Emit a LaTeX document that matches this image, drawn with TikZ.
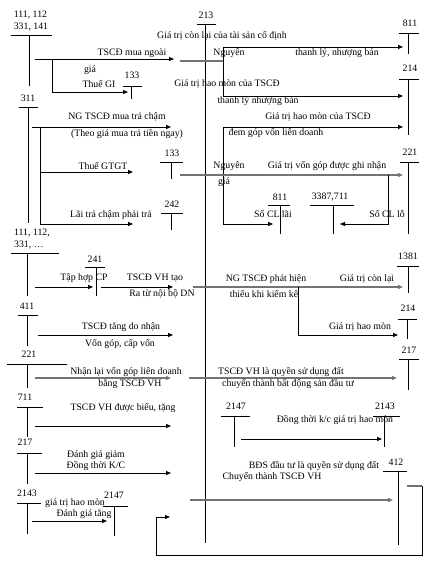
\documentclass[tikz,border=0pt]{standalone}
\usepackage{fontspec}
\setmainfont{Liberation Serif}
\usepackage{tikz}
\usetikzlibrary{arrows.meta}
\tikzset{
	acc/.style  ={line width=0.9pt},
	flow/.style ={-{Triangle[length=5pt,width=4pt]}, line width=0.8pt},
	flowg/.style={-{Triangle[length=5pt,width=4pt]}, line width=1.4pt, black!55},
	cross/.style={line width=1.4pt, black!55},
	lbl/.style  ={inner sep=0pt, align=center},
	accno/.style={inner sep=0pt, align=left},
}
\begin{document}
\begin{tikzpicture}[x=1pt, y=-1pt, font=\fontsize{9.8}{12}\selectfont]
	\useasboundingbox (0,0) rectangle (439,567);
	% main account 213
	\node[accno] (a213) at (206,15) {213};
	\draw[acc] (197,24) -- (216,24) (205,24) -- (205,543);
	% accounts on the left
	\node[accno] (a111) at (31,21) {111, 112\\331, 141};
	\draw[acc] (11,35) -- (52,35) (29,35) -- (29,86);
	\node[accno] (a311) at (28,98) {311};
	\draw[acc] (19,107) -- (38,107) (28,107) -- (28,223);
	\node[accno] (a111b) at (32,239) {111, 112,\\331, \dots};
	\draw[acc] (11,253) -- (59,253) (27,253) -- (27,296);
	\node[accno] (a411) at (27,306) {411};
	\draw[acc] (18,315) -- (38,315) (27,315) -- (27,346);
	\node[accno] (a221b) at (29,354) {221};
	\draw[acc] (7,364) -- (67,364) (27,364) -- (27,388);
	\node[accno] (a711) at (25,397) {711};
	\draw[acc] (17,407) -- (43,407) (27,407) -- (27,437);
	\node[accno] (a217b) at (25,442) {217};
	\draw[acc] (17,453) -- (42,453) (27,453) -- (27,484);
	\node[accno] (a2143b) at (27,493) {2143};
	\draw[acc] (17,503) -- (41,503) (27,503) -- (27,534);
	% middle accounts
	\node[accno] (a133a) at (132,75) {133};
	\draw[acc] (123,86) -- (142,86) (131,86) -- (131,99);
	\node[accno] (a133b) at (172,153) {133};
	\draw[acc] (160,162) -- (183,162) (171,162) -- (171,179);
	\node[accno] (a242) at (172,204) {242};
	\draw[acc] (161,213) -- (183,213) (171,213) -- (171,230);
	\node[accno] (a241) at (95,259) {241};
	\draw[acc] (85,267) -- (105,267) (96,267) -- (96,296);
	\node[accno] (a2147b) at (114,495) {2147};
	\draw[acc] (103,506) -- (128,506) (114,506) -- (114,536);
	\node[accno] (a811b) at (280,197) {811};
	\draw[acc] (268,205) -- (290,205) (280,205) -- (280,234);
	\node[accno] (a3387) at (330,197) {3387,711};
	\draw[acc] (310,205) -- (354,205) (333,205) -- (333,234);
	\node[accno] (a2147a) at (236,406) {2147};
	\draw[acc] (221,416) -- (250,416) (234,416) -- (234,447);
	\node[accno] (a2143a) at (385,406) {2143};
	\draw[acc] (373,416) -- (400,416) (384,416) -- (384,447);
	% accounts on the right
	\node[accno] (a811a) at (410,23) {811};
	\draw[acc] (399,33) -- (419,33) (408,33) -- (408,54);
	\node[accno] (a214a) at (410,68) {214};
	\draw[acc] (399,79) -- (419,79) (408,79) -- (408,135);
	\node[accno] (a221a) at (410,152) {221};
	\draw[acc] (400,162) -- (419,162) (408,162) -- (408,234);
	\node[accno] (a1381) at (408,256) {1381};
	\draw[acc] (397,266) -- (419,266) (408,266) -- (408,293);
	\node[accno] (a214b) at (408,308) {214};
	\draw[acc] (398,319) -- (417,319) (407,319) -- (407,339);
	\node[accno] (a217a) at (409,350) {217};
	\draw[acc] (399,359) -- (419,359) (408,359) -- (408,390);
	\node[accno] (a412) at (396,462) {412};
	\draw[acc] (383,471) -- (407,471) (398,471) -- (398,545);

	% buying
	\draw[flow] (35,59) -- (174,59);
	\draw[flow] (52,59) -- (52,92) -- (128,92);
	\node[lbl] at (132,53) {TSCĐ mua ngoài};
	\node[lbl] at (90,70) {giá};
	\node[lbl] at (99,84) {Thuế GI};
	% disposal
	\node[lbl] at (222,36) {Giá trị còn lại của tài sản cố định};
	\draw[cross] (180,61) -- (223,61);
	\draw[acc] (223,47) -- (223,96);
	\draw[flow] (223,47) -- (403,47);
	\draw[flow] (223,96) -- (403,96);
	\node[lbl] at (229,53) {Nguyên};
	\node[lbl] at (337,53) {thanh lý, nhượng bán};
	\node[lbl] at (227,84) {Giá trị hao mòn của TSCĐ};
	\node[lbl] at (258,101) {thanh lý nhượng bán};
	% deferred payment
	\draw[flow] (32,127) -- (171,127);
	\draw[flow] (40,127) -- (40,224) -- (133,224);
	\draw[flow] (40,172) -- (133,172);
	\node[lbl] at (117,117) {NG TSCĐ mua trả chậm};
	\node[lbl] at (127,134) {(Theo giá mua trả tiền ngay)};
	\node[lbl] at (103,166) {Thuế GTGT};
	\node[lbl] at (111,215) {Lãi trả chậm phải trả};
	% capital contribution
	\draw[flow] (223,127) -- (403,127);
	\draw[flow] (223,127) -- (223,224) -- (273,224);
	\draw[flowg] (180,175) -- (403,175);
	\draw[flow] (388,175) -- (388,224) -- (340,224);
	\node[lbl] at (318,117) {Giá trị hao mòn của TSCĐ};
	\node[lbl] at (276,133) {đem góp vốn liên doanh};
	\node[lbl] at (229,166) {Nguyên};
	\node[lbl] at (224,182) {giá};
	\node[lbl] at (327,166) {Giá trị vốn góp được ghi nhận};
	\node[lbl] at (273,214) {Số CL lãi};
	\node[lbl] at (387,214) {Số CL lỗ};
	% self-made, shortage
	\draw[flow] (35,287) -- (93,287);
	\draw[flow] (101,287) -- (173,287);
	\draw[flowg] (193,287) -- (403,287);
	\draw[flow] (298,287) -- (298,335) -- (398,335);
	\node[lbl] at (84,278) {Tập hợp CP};
	\node[lbl] at (155,278) {TSCĐ VH tạo};
	\node[lbl] at (162,294) {Ra từ nội bộ DN};
	\node[lbl] at (266,279) {NG TSCĐ phát hiện};
	\node[lbl] at (264,294) {thiếu khi kiểm kê};
	\node[lbl] at (367,279) {Giá trị còn lại};
	\node[lbl] at (360,327) {Giá trị hao mòn};
	% contributed capital
	\draw[flow] (38,335) -- (173,335);
	\node[lbl] at (121,327) {TSCĐ tăng do nhận};
	\node[lbl] at (120,344) {Vốn góp, cấp vốn};
	\draw[flowg] (35,378) -- (171,378);
	\draw[flowg] (189,378) -- (397,378);
	\node[lbl] at (126,372) {Nhận lại vốn góp liên doanh};
	\node[lbl] at (130,384) {bằng TSCĐ VH};
	\node[lbl] at (281,372) {TSCĐ VH là quyền sử dụng đất};
	\node[lbl] at (288,384) {chuyển thành bất động sản đầu tư};
	\draw[flow] (35,426) -- (171,426);
	\node[lbl] at (123,408) {TSCĐ VH được biếu, tặng};
	\draw[flow] (241,439) -- (382,439);
	\node[lbl] at (335,420) {Đồng thời k/c giá trị hao mòn};
	% revaluation
	\draw[flow] (35,473) -- (171,473);
	\node[lbl] at (96,455) {Đánh giá giảm};
	\node[lbl] at (96,466) {Đồng thời K/C};
	\draw[flow] (32,521) -- (107,521);
	\node[lbl] at (75,503) {giá trị hao mòn};
	\node[lbl] at (84,514) {Đánh giá tăng};
	% investment property
	\draw[flowg] (190,500) -- (393,500);
	\node[lbl] at (314,466) {BĐS đầu tư là quyền sử dụng đất};
	\node[lbl] at (272,477) {Chuyển thành TSCĐ VH};
	\draw[cross] (407,486) -- (422,486);
	\draw[flow] (422,486) -- (422,555) -- (156,555) -- (156,517) -- (170,517);
\end{tikzpicture}
\end{document}
